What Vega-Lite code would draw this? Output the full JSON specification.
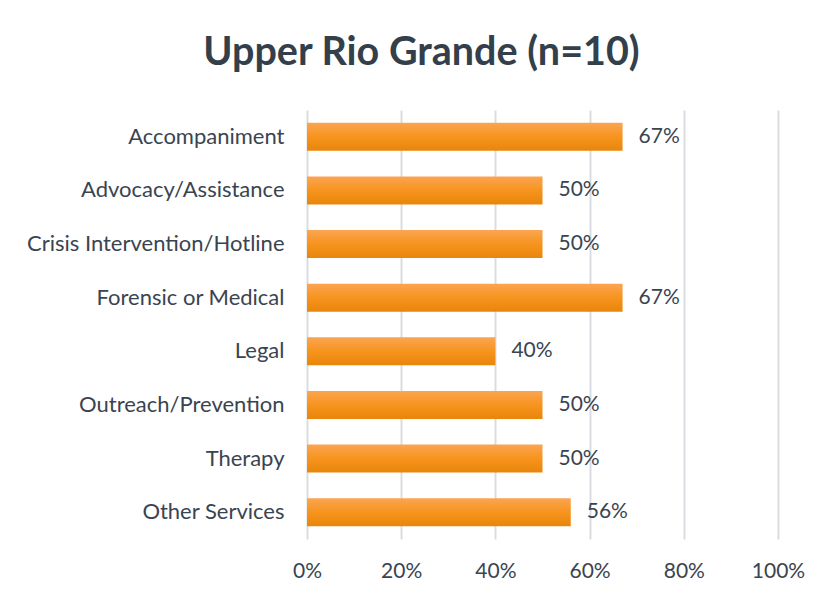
{
  "$schema": "https://vega.github.io/schema/vega-lite/v6.json",
  "autosize": {"type": "none"},
  "padding": {"left": 307, "top": 110, "right": 47, "bottom": 58},
  "width": 471,
  "height": 429,
  "background": "white",
  "title": {
    "text": "Upper Rio Grande (n=10)",
    "font": "Lato",
    "fontSize": 39.5,
    "fontWeight": "bold",
    "color": "#333F4B",
    "anchor": "middle",
    "dx": -121,
    "offset": 37
  },
  "data": {
    "values": [
      {"service": "Accompaniment", "pct": 0.67, "label": "67%"},
      {"service": "Advocacy/Assistance", "pct": 0.50, "label": "50%"},
      {"service": "Crisis Intervention/Hotline", "pct": 0.50, "label": "50%"},
      {"service": "Forensic or Medical", "pct": 0.67, "label": "67%"},
      {"service": "Legal", "pct": 0.40, "label": "40%"},
      {"service": "Outreach/Prevention", "pct": 0.50, "label": "50%"},
      {"service": "Therapy", "pct": 0.50, "label": "50%"},
      {"service": "Other Services", "pct": 0.56, "label": "56%"}
    ]
  },
  "config": {
    "view": {"stroke": null},
    "font": "Lato"
  },
  "encoding": {
    "y": {
      "field": "service",
      "type": "nominal",
      "sort": null,
      "scale": {"paddingInner": 0.477, "paddingOuter": 0.2385},
      "axis": {
        "title": null,
        "domain": false,
        "ticks": false,
        "labelFont": "Lato",
        "labelFontSize": 22,
        "labelColor": "#3A4451",
        "labelPadding": 23,
        "labelLimit": 400
      }
    },
    "x": {
      "field": "pct",
      "type": "quantitative",
      "scale": {"domain": [0, 1]},
      "axis": {
        "title": null,
        "format": ".0%",
        "values": [0, 0.2, 0.4, 0.6, 0.8, 1],
        "domain": false,
        "ticks": false,
        "grid": true,
        "gridColor": "#D9DDE2",
        "gridWidth": 2,
        "labelFlush": false,
        "labelFont": "Lato",
        "labelFontSize": 21,
        "labelColor": "#3A4451",
        "labelPadding": 21
      }
    }
  },
  "layer": [
    {
      "mark": {
        "type": "bar",
        "color": {
          "gradient": "linear",
          "x1": 0, "y1": 0, "x2": 0, "y2": 1,
          "stops": [
            {"offset": 0, "color": "#FBA552"},
            {"offset": 0.5, "color": "#F7941E"},
            {"offset": 1, "color": "#E8850A"}
          ]
        }
      }
    },
    {
      "mark": {
        "type": "text",
        "align": "left",
        "baseline": "middle",
        "dx": 16,
        "fontSize": 21,
        "font": "Lato",
        "color": "#3A4451"
      },
      "encoding": {"text": {"field": "label"}}
    }
  ]
}
